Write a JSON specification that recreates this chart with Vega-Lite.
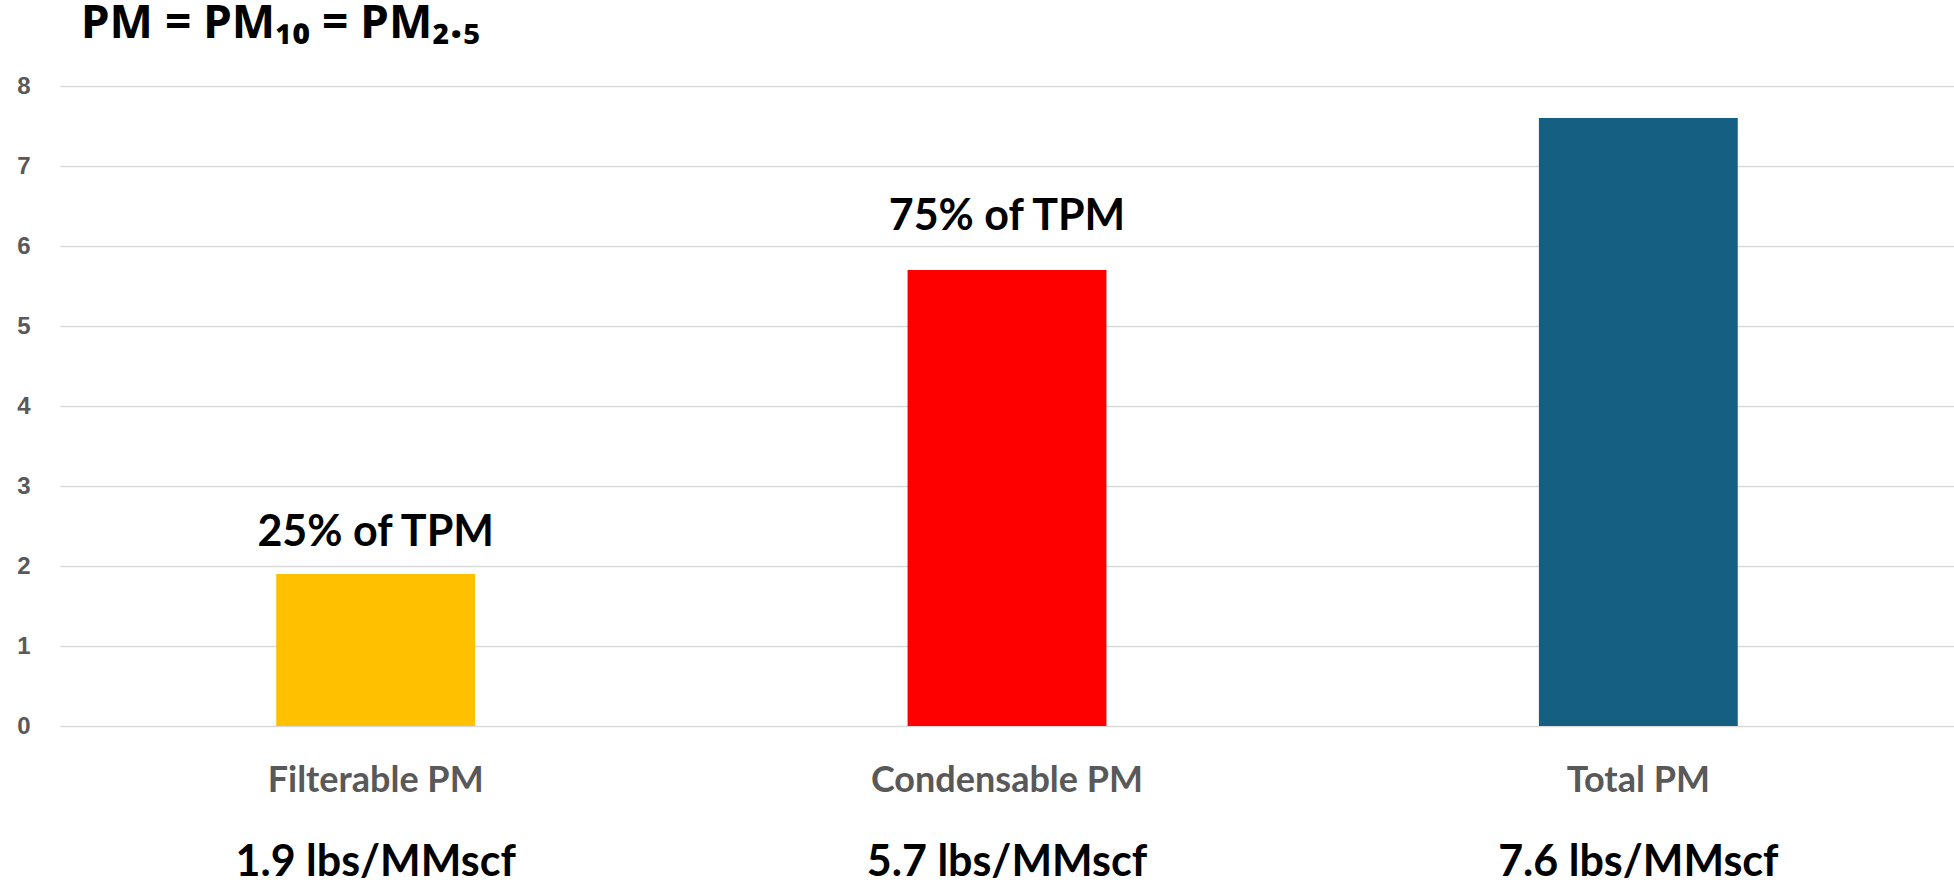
{
  "$schema": "https://vega.github.io/schema/vega-lite/v6.json",
  "width": 1894,
  "height": 640,
  "autosize": {"type": "none"},
  "padding": {"left": 60, "top": 86, "right": 0, "bottom": 161},
  "background": "white",
  "config": {"view": {"stroke": null}},
  "title": {
    "text": "PM = PM₁₀ = PM₂.₅",
    "anchor": "start",
    "frame": "group",
    "font": "Noto Sans",
    "fontSize": 46,
    "fontWeight": "bold",
    "color": "#000000",
    "baseline": "alphabetic",
    "dx": 21,
    "dy": 41,
    "offset": 31
  },
  "data": {
    "values": [
      {"source": "Filterable PM", "value": 1.9, "share": "25% of TPM"},
      {"source": "Condensable PM", "value": 5.7, "share": "75% of TPM"},
      {"source": "Total PM", "value": 7.6, "share": null}
    ]
  },
  "transform": [
    {"calculate": "format(datum.value, '.1f') + ' lbs/MMscf'", "as": "rate"}
  ],
  "encoding": {
    "x": {
      "field": "source",
      "type": "nominal",
      "sort": null,
      "scale": {"paddingInner": 0.685, "paddingOuter": 0.3425},
      "axis": {
        "title": null,
        "labelAngle": 0,
        "labelLimit": 0,
        "domain": false,
        "ticks": false,
        "tickSize": 0,
        "grid": false,
        "labelFont": "Lato",
        "labelFontWeight": "bold",
        "labelFontSize": 36,
        "labelColor": "#595959",
        "labelBaseline": "alphabetic",
        "labelPadding": 65
      }
    }
  },
  "layer": [
    {
      "mark": {"type": "bar"},
      "encoding": {
        "y": {
          "field": "value",
          "type": "quantitative",
          "scale": {"domain": [0, 8], "nice": false},
          "axis": {
            "title": null,
            "values": [0, 1, 2, 3, 4, 5, 6, 7, 8],
            "format": "d",
            "domain": false,
            "ticks": false,
            "tickSize": 0,
            "grid": true,
            "gridColor": "#D9D9D9",
            "gridWidth": 1.5,
            "labelFont": "Liberation Sans",
            "labelFontWeight": "bold",
            "labelFontSize": 24,
            "labelColor": "#595959",
            "labelPadding": 30
          }
        },
        "color": {
          "field": "source",
          "type": "nominal",
          "scale": {
            "domain": ["Filterable PM", "Condensable PM", "Total PM"],
            "range": ["#FFC000", "#FF0000", "#156082"]
          },
          "legend": null
        }
      }
    },
    {
      "transform": [{"filter": "datum.source === 'Filterable PM'"}],
      "mark": {
        "type": "text",
        "font": "Lato",
        "fontWeight": "bold",
        "fontSize": 43,
        "color": "#000000",
        "baseline": "alphabetic",
        "dy": -28
      },
      "encoding": {
        "y": {"field": "value", "type": "quantitative"},
        "text": {"field": "share"}
      }
    },
    {
      "transform": [{"filter": "datum.source === 'Condensable PM'"}],
      "mark": {
        "type": "text",
        "font": "Lato",
        "fontWeight": "bold",
        "fontSize": 43,
        "color": "#000000",
        "baseline": "alphabetic",
        "dy": -40
      },
      "encoding": {
        "y": {"field": "value", "type": "quantitative"},
        "text": {"field": "share"}
      }
    },
    {
      "mark": {
        "type": "text",
        "font": "Lato",
        "fontWeight": "bold",
        "fontSize": 43,
        "color": "#000000",
        "baseline": "alphabetic",
        "dy": 150
      },
      "encoding": {
        "y": {"datum": 0, "type": "quantitative"},
        "text": {"field": "rate"}
      }
    }
  ]
}
